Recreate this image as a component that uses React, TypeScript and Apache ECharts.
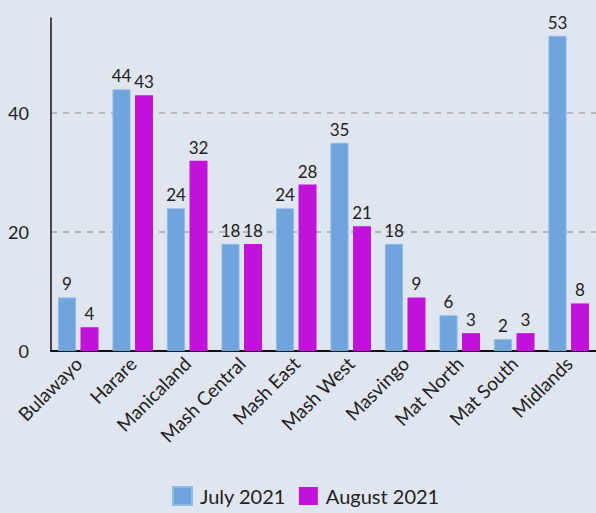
import React, { useEffect, useRef } from "react";
import * as echarts from "echarts";

const categories = ["Bulawayo", "Harare", "Manicaland", "Mash Central", "Mash East", "Mash West", "Masvingo", "Mat North", "Mat South", "Midlands"];
const july2021 = [9, 44, 24, 18, 24, 35, 18, 6, 2, 53];
const august2021 = [4, 43, 32, 18, 28, 21, 9, 3, 3, 8];
const seriesNames = ["July 2021", "August 2021"];
const yTicks = [0, 20, 40];

export default function App() {
  const ref = useRef<HTMLDivElement>(null);
  useEffect(() => {
    if (!ref.current) return;
    const chart = echarts.init(ref.current, undefined, { renderer: "svg" });
    const font = "Lato, 'Noto Sans', sans-serif";
    const labelStyle = { show: true, position: "top", distance: 5, color: "#222", fontSize: 17, fontFamily: font };
    chart.setOption({
      animation: false,
      backgroundColor: "#dfe6f0",
      textStyle: { fontFamily: font },
      grid: { left: 51, top: 18, width: 549, bottom: 162, containLabel: false },
      legend: {
        bottom: 2,
        left: 167,
        itemWidth: 19,
        itemHeight: 18,
        itemGap: 13,
        icon: "rect",
        textStyle: { fontSize: 20, color: "#222", fontFamily: font, padding: [0, 0, 0, 3] },
        data: seriesNames,
      },
      xAxis: {
        type: "category",
        data: categories,
        axisLine: { lineStyle: { color: "#111", width: 2 } },
        axisTick: { show: false },
        axisLabel: { rotate: 45, color: "#222", fontSize: 19, fontFamily: font, margin: 9, interval: 0 },
      },
      yAxis: {
        type: "value",
        min: 0,
        max: 56,
        interval: 20,
        axisLine: { show: true, lineStyle: { color: "#111", width: 1.5 } },
        axisTick: { show: false },
        axisLabel: {
          color: "#222",
          fontSize: 18,
          fontFamily: font,
          margin: 22,
          formatter: (v: number) => (yTicks.includes(v) ? String(v) : ""),
        },
        splitLine: {
          show: true,
          lineStyle: { type: [6, 6], width: 1.5, color: ["#aaaaaa", "#aaaaaa", "#aaaaaa", "rgba(0,0,0,0)"] },
        },
      },
      series: [
        {
          name: seriesNames[0],
          type: "bar",
          data: july2021,
          barWidth: 18,
          barGap: "25%",
          itemStyle: { color: "#6fa5dc", borderColor: "#8fbbe6", borderWidth: 0.8 },
          label: labelStyle,
        },
        {
          name: seriesNames[1],
          type: "bar",
          data: august2021,
          barWidth: 18,
          barGap: "25%",
          itemStyle: { color: "#c211db" },
          label: labelStyle,
        },
      ],
    });
    return () => chart.dispose();
  }, []);
  return <div ref={ref} style={{ width: 596, height: 513, position: "absolute", left: 0, top: 0 }} />;
}
